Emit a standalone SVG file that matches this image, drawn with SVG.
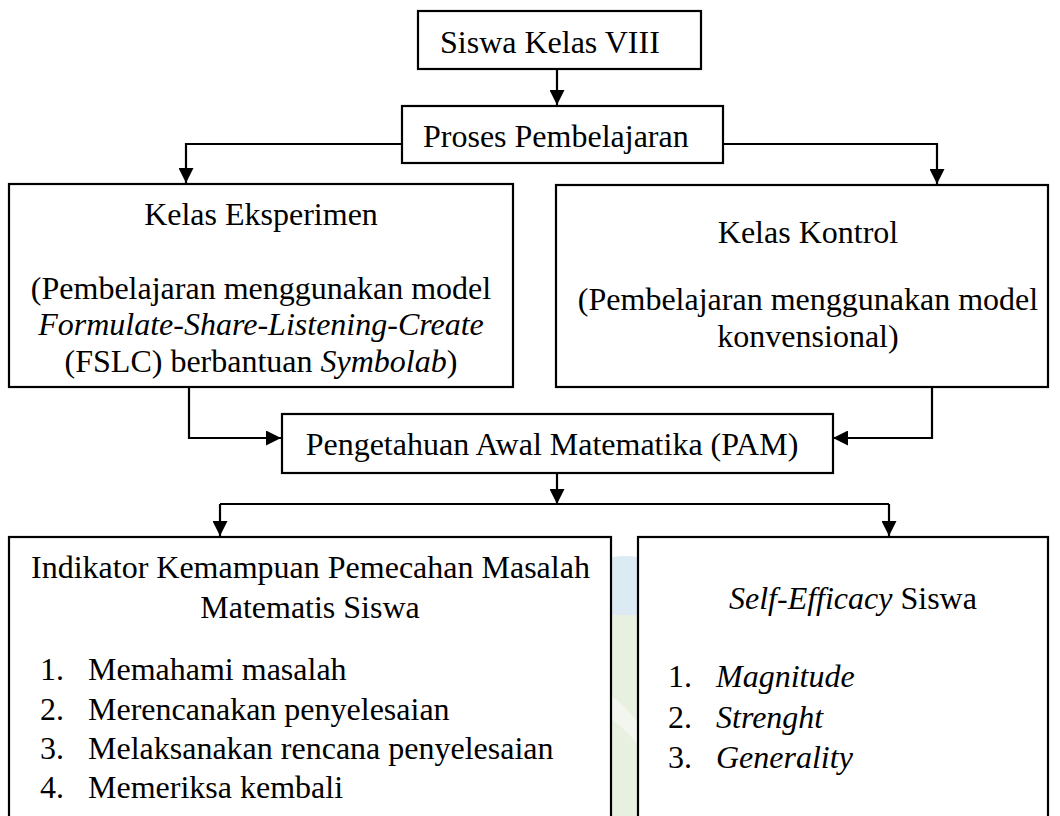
<svg xmlns="http://www.w3.org/2000/svg" width="1060" height="816" viewBox="0 0 1060 816">
<style>
.box{fill:#fff;stroke:#000;stroke-width:2.2}
.t{font-family:"Liberation Serif","Times New Roman",serif;font-size:32px;fill:#000}
.c{text-anchor:middle}
.i{font-style:italic}
.con{fill:none;stroke:#000;stroke-width:2.2}
</style>
<defs>
<marker id="ah" markerUnits="userSpaceOnUse" markerWidth="15" markerHeight="15" refX="15" refY="7.5" orient="auto" viewBox="0 0 15 15">
<path d="M0,0 L15,7.5 L0,15 z" fill="#000"/>
</marker>
</defs>
<rect width="1060" height="816" fill="#fff"/>
<g id="watermark" opacity="0.9">
<path d="M600,560 Q625,552 650,560 L650,615 L600,615 z" fill="#d9e8f3"/>
<path d="M600,615 L650,615 L650,816 L600,816 z" fill="#e6f0dc"/>
<path d="M600,690 Q625,700 650,740 L650,760 Q625,725 600,712 z" fill="#f2f6ee"/>
</g>
<g id="connectors">
<path class="con" d="M557,69 L557,105" marker-end="url(#ah)"/>
<path class="con" d="M402,144 L186,144 L186,183" marker-end="url(#ah)"/>
<path class="con" d="M723,144 L937,144 L937,184" marker-end="url(#ah)"/>
<path class="con" d="M189,387 L189,438 L281,438" marker-end="url(#ah)"/>
<path class="con" d="M932,387 L932,438 L833,438" marker-end="url(#ah)"/>
<path class="con" d="M557,473 L557,504" marker-end="url(#ah)"/>
<path class="con" d="M220,504 L889,504"/>
<path class="con" d="M220,504 L220,536" marker-end="url(#ah)"/>
<path class="con" d="M889,504 L889,536" marker-end="url(#ah)"/>
</g>
<g id="siswa">
<rect class="box" x="418" y="11" width="283" height="58"/>
<text class="t" x="440" y="53">Siswa Kelas VIII</text>
</g>
<g id="proses">
<rect class="box" x="402" y="106" width="321" height="57"/>
<text class="t" x="423" y="147">Proses Pembelajaran</text>
</g>
<g id="eksperimen">
<rect class="box" x="9" y="184" width="504" height="203"/>
<text class="t c" x="261" y="225">Kelas Eksperimen</text>
<text class="t c" x="261" y="299">(Pembelajaran menggunakan model</text>
<text class="t c i" x="261" y="335">Formulate-Share-Listening-Create</text>
<text class="t c" x="261" y="372">(FSLC) berbantuan <tspan class="i">Symbolab</tspan>)</text>
</g>
<g id="kontrol">
<rect class="box" x="556" y="185" width="492" height="202"/>
<text class="t c" x="808" y="243">Kelas Kontrol</text>
<text class="t c" x="808" y="310">(Pembelajaran menggunakan model</text>
<text class="t c" x="808" y="347">konvensional)</text>
</g>
<g id="pam">
<rect class="box" x="282" y="414" width="551" height="59"/>
<text class="t c" x="552" y="455">Pengetahuan Awal Matematika (PAM)</text>
</g>
<g id="indikator">
<rect class="box" x="9" y="537" width="602" height="300"/>
<text class="t" x="31" y="578">Indikator Kemampuan Pemecahan Masalah</text>
<text class="t c" x="310" y="618">Matematis Siswa</text>
<text class="t" x="40" y="680">1.</text><text class="t" x="88" y="680">Memahami masalah</text>
<text class="t" x="40" y="720">2.</text><text class="t" x="88" y="720">Merencanakan penyelesaian</text>
<text class="t" x="40" y="759">3.</text><text class="t" x="88" y="759">Melaksanakan rencana penyelesaian</text>
<text class="t" x="40" y="798">4.</text><text class="t" x="88" y="798">Memeriksa kembali</text>
</g>
<g id="selfefficacy">
<rect class="box" x="638" y="537" width="410" height="300"/>
<text class="t" x="729" y="609"><tspan class="i">Self-Efficacy</tspan> Siswa</text>
<text class="t" x="668" y="687">1.</text><text class="t i" x="716" y="687">Magnitude</text>
<text class="t" x="668" y="728">2.</text><text class="t i" x="716" y="728">Strenght</text>
<text class="t" x="668" y="768">3.</text><text class="t i" x="716" y="768">Generality</text>
</g>
</svg>
